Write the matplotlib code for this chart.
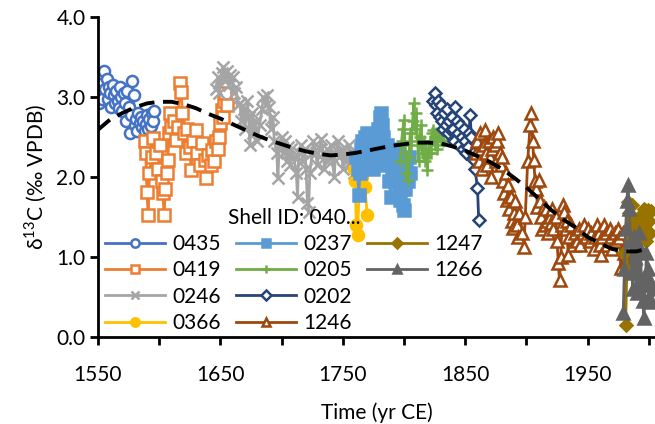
import matplotlib
matplotlib.use("Agg")
import matplotlib.pyplot as plt
from matplotlib.lines import Line2D
import numpy as np

plt.rcParams['font.family'] = ['Lato', 'DejaVu Sans']
plt.rcParams['mathtext.fontset'] = 'custom'
plt.rcParams['mathtext.rm'] = 'Lato'

# ---- data ----
yr_0435 = [1551, 1552, 1553, 1554, 1555, 1556, 1557, 1558, 1559, 1560, 1561, 1562, 1563, 1564, 1565,
           1566, 1567, 1568, 1569, 1570, 1571, 1572, 1573, 1574, 1575, 1576, 1577, 1578, 1579, 1580,
           1581, 1582, 1583, 1584, 1585, 1586, 1587, 1588, 1589, 1590, 1591, 1592, 1593, 1594, 1595, 1596]
d_0435 = [2.92, 3.05, 2.97, 3.18, 3.32, 3.10, 3.22, 2.98, 3.12, 3.05, 2.88, 3.15, 3.02, 2.93, 3.08,
          2.95, 2.86, 3.12, 3.00, 2.82, 3.05, 2.92, 2.70, 3.08, 2.88, 2.55, 2.78, 3.20, 3.02, 2.65,
          2.72, 2.58, 2.80, 2.68, 2.75, 2.62, 2.70, 2.58, 2.66, 2.78, 2.60, 2.72, 2.64, 2.80, 2.70, 2.82]

yr_0419 = [1588, 1589, 1590, 1591, 1592, 1594, 1595, 1597, 1599, 1601, 1602, 1603, 1604, 1605, 1606,
           1607, 1608, 1609, 1610, 1612, 1614, 1615, 1617, 1618, 1619, 1620, 1622, 1623, 1625, 1626,
           1628, 1630, 1631, 1633, 1635, 1637, 1638, 1640, 1642, 1643, 1645, 1646, 1648, 1649, 1650,
           1651, 1652, 1653, 1654, 1655]
d_0419 = [2.45, 2.30, 1.81, 1.52, 2.05, 2.25, 2.49, 2.30, 2.10, 2.40, 1.95, 1.80, 1.52, 1.85, 2.05,
          2.21, 2.55, 2.80, 2.62, 2.70, 2.46, 2.63, 3.17, 3.06, 2.80, 2.55, 2.30, 2.60, 2.38, 2.09,
          2.45, 2.59, 2.30, 2.15, 2.42, 2.21, 1.99, 2.28, 2.15, 2.34, 2.20, 2.45, 2.35, 2.50, 2.68,
          2.84, 2.75, 2.95, 3.05, 2.90]

yr_0246 = [1646, 1648, 1649, 1651, 1652, 1654, 1655, 1657, 1658, 1660, 1661, 1663, 1664, 1666, 1667,
           1669, 1670, 1672, 1673, 1674, 1676, 1677, 1679, 1680, 1682, 1684, 1685, 1687, 1688, 1690,
           1691, 1693, 1694, 1696, 1697, 1698, 1700, 1701, 1703, 1704, 1705, 1707, 1708, 1710, 1712,
           1713, 1714, 1716, 1717, 1719, 1720, 1721, 1722, 1723, 1725, 1726, 1728, 1729, 1731, 1732,
           1734, 1735, 1737, 1738, 1740, 1741, 1743, 1744, 1746, 1747, 1749, 1750, 1752, 1753, 1755,
           1756, 1758, 1759]
d_0246 = [3.10, 3.25, 3.05, 3.30, 3.37, 3.20, 3.33, 3.15, 3.28, 3.25, 3.05, 3.12, 2.90, 2.92, 2.70,
          2.85, 2.60, 2.95, 2.75, 2.40, 2.80, 2.55, 2.70, 2.45, 2.65, 2.85, 3.00, 2.90, 3.02, 2.88,
          2.60, 2.75, 2.45, 2.30, 1.99, 2.40, 2.50, 2.30, 2.45, 2.20, 2.37, 2.15, 2.35, 2.25, 2.05,
          1.75, 2.30, 2.40, 2.20, 2.35, 2.10, 1.67, 1.56, 2.05, 2.30, 2.45, 2.30, 2.15, 2.35, 2.48,
          2.30, 2.10, 2.35, 2.20, 2.40, 2.25, 2.00, 2.30, 2.45, 2.25, 2.35, 2.10, 2.30, 2.20, 2.40,
          2.15, 2.30, 2.05]

yr_0366 = [1759, 1760, 1761, 1762, 1764, 1766, 1768, 1770]
d_0366 = [2.10, 1.95, 1.40, 1.28, 2.09, 2.00, 1.88, 1.52]

yr_0237 = [1761, 1762, 1763, 1764, 1765, 1766, 1767, 1768, 1769, 1770, 1771, 1772, 1773, 1774, 1775,
           1776, 1777, 1778, 1779, 1780, 1781, 1782, 1783, 1784, 1785, 1786, 1787, 1788, 1789, 1790,
           1791, 1792, 1793, 1794, 1795, 1796, 1797, 1798, 1799, 1800, 1801, 1802, 1803, 1804, 1805]
d_0237 = [2.25, 2.10, 1.77, 2.05, 2.35, 2.45, 2.30, 2.50, 2.40, 2.55, 2.35, 2.20, 2.45, 2.30, 2.10,
          2.40, 2.25, 2.50, 2.60, 2.75, 2.80, 2.65, 2.50, 2.30, 2.15, 2.40, 2.20, 1.95, 1.75, 2.05,
          2.30, 2.15, 1.95, 2.20, 2.35, 1.90, 1.71, 1.85, 1.65, 1.59, 1.85, 2.10, 1.95, 2.25, 2.05]

yr_0205 = [1797, 1798, 1799, 1800, 1801, 1802, 1803, 1804, 1805, 1806, 1807, 1808, 1809, 1810, 1811,
           1812, 1813, 1814, 1815, 1816, 1817, 1818, 1819, 1820, 1821, 1822, 1823, 1824, 1825, 1826,
           1827, 1828, 1829, 1830, 1831, 1832]
d_0205 = [2.20, 2.45, 2.60, 2.71, 2.30, 2.05, 1.96, 2.25, 2.55, 2.40, 2.70, 2.92, 2.60, 2.80, 2.45,
          2.20, 2.50, 2.65, 2.30, 2.45, 2.20, 2.35, 2.09, 2.30, 2.45, 2.30, 2.55, 2.59, 2.40, 2.55,
          2.35, 2.50, 2.60, 2.46, 2.55, 2.45]

yr_0202 = [1824, 1825, 1826, 1827, 1828, 1829, 1830, 1831, 1832, 1833, 1834, 1835, 1836, 1837, 1838,
           1839, 1840, 1841, 1842, 1843, 1844, 1845, 1846, 1847, 1848, 1849, 1850, 1851, 1852, 1853,
           1854, 1855, 1856, 1857, 1858, 1860, 1861]
d_0202 = [2.95, 3.05, 2.90, 2.80, 2.95, 2.75, 2.90, 2.70, 2.60, 2.80, 2.65, 2.85, 2.55, 2.70, 2.59,
          2.75, 2.60, 2.45, 2.88, 2.70, 2.55, 2.40, 2.65, 2.50, 2.35, 2.60, 2.45, 2.30, 2.38, 2.55,
          2.77, 2.50, 2.30, 2.21, 2.10, 1.86, 1.46]

yr_1246 = [1859, 1860, 1861, 1862, 1863, 1864, 1865, 1866, 1867, 1868, 1869, 1870, 1871, 1872, 1873,
           1874, 1875, 1876, 1877, 1878, 1879, 1880, 1881, 1882, 1883, 1884, 1885, 1886, 1887, 1888,
           1889, 1890, 1891, 1892, 1893, 1894, 1896, 1898, 1899, 1901, 1903, 1904, 1905, 1906, 1907,
           1908, 1909, 1910, 1911, 1912, 1913, 1914, 1915, 1916, 1917, 1918, 1919, 1920, 1921, 1922,
           1924, 1925, 1926, 1927, 1928, 1929, 1930, 1931, 1932, 1933, 1934, 1935, 1936, 1938, 1940,
           1941, 1943, 1944, 1946, 1947, 1949, 1950, 1952, 1953, 1955, 1956, 1958, 1959, 1960, 1961,
           1962, 1963, 1965, 1966, 1968, 1969, 1970, 1972, 1973, 1975, 1976, 1977, 1979, 1980, 1981]
d_1246 = [2.30, 2.45, 2.20, 2.55, 2.35, 2.10, 2.40, 2.59, 2.30, 2.15, 2.45, 2.25, 2.00, 2.35, 2.50,
          2.40, 2.20, 2.45, 2.55, 2.30, 2.15, 2.25, 1.95, 1.80, 2.05, 1.71, 1.90, 1.60, 1.75, 1.45,
          1.36, 1.55, 1.70, 1.40, 1.25, 1.55, 1.30, 1.13, 1.50, 2.20, 2.65, 2.80, 2.45, 2.21, 1.95,
          1.85, 1.63, 1.96, 1.70, 1.50, 1.35, 1.63, 1.40, 1.60, 1.45, 1.30, 1.50, 1.42, 1.60, 1.35,
          1.50, 1.20, 0.92, 0.71, 1.00, 1.40, 1.65, 1.56, 1.35, 1.45, 1.02, 1.25, 1.40, 1.15, 1.30,
          1.20, 1.35, 1.15, 1.30, 1.40, 1.25, 1.35, 1.20, 1.30, 1.10, 1.25, 1.40, 1.30, 1.15, 1.02,
          1.25, 1.40, 1.30, 1.15, 1.35, 1.25, 1.10, 1.30, 1.20, 1.35, 1.24, 0.86, 1.30, 1.05, 0.95]

yr_1247 = [1980, 1981, 1982, 1983, 1984, 1985, 1986, 1987, 1988, 1989, 1990, 1991, 1992, 1993, 1994,
           1995, 1996, 1997, 1998, 1999, 2000, 2001, 2002]
d_1247 = [1.05, 0.15, 0.86, 1.69, 1.55, 1.30, 1.65, 1.20, 1.45, 0.90, 0.56, 1.10, 1.50, 1.35, 1.25,
          1.45, 1.60, 1.40, 1.20, 1.59, 1.45, 1.30, 1.58]

yr_1266 = [1979, 1980, 1981, 1982, 1983, 1984, 1985, 1986, 1987, 1988, 1989, 1990, 1991, 1992, 1993,
           1994, 1995, 1996, 1997, 1998, 1999, 2000, 2001, 2002, 2003]
d_1266 = [0.30, 0.85, 1.35, 1.70, 1.90, 1.60, 1.20, 0.80, 0.60, 1.25, 1.00, 0.55, 0.80, 1.30, 1.10,
          0.70, 0.45, 0.24, 0.65, 1.05, 0.85, 0.50, 0.70, 0.44, 0.60]

# dashed trend curve, read every 10 years
yr_trend = list(range(1550, 2010, 10))
d_trend = [2.59, 2.72, 2.80, 2.87, 2.92, 2.94, 2.94, 2.91, 2.86, 2.79, 2.73, 2.66, 2.59, 2.52, 2.46,
           2.41, 2.36, 2.32, 2.29, 2.27, 2.28, 2.30, 2.33, 2.36, 2.39, 2.41, 2.43, 2.43, 2.42, 2.38,
           2.33, 2.26, 2.19, 2.10, 1.99, 1.87, 1.73, 1.59, 1.47, 1.37, 1.25, 1.17, 1.10, 1.07, 1.07,
           1.11]

series = [
    ('0435', yr_0435, d_0435, '#4472C4', 'o', True),
    ('0419', yr_0419, d_0419, '#ED7D31', 's', True),
    ('0246', yr_0246, d_0246, '#A5A5A5', 'x', False),
    ('0366', yr_0366, d_0366, '#FFC000', 'o', False),
    ('0237', yr_0237, d_0237, '#5B9BD5', 's', False),
    ('0205', yr_0205, d_0205, '#70AD47', '+', False),
    ('0202', yr_0202, d_0202, '#264478', 'D', True),
    ('1246', yr_1246, d_1246, '#9E480E', '^', True),
    ('1247', yr_1247, d_1247, '#997300', 'D', False),
    ('1266', yr_1266, d_1266, '#636363', '^', False),
]

FS = 15

fig = plt.figure(figsize=(6.55, 4.24), dpi=100)
ax = fig.add_axes([98 / 655, 87 / 424, 557 / 655, 320 / 424])

handles = []
for name, x, y, c, m, hollow in series:
    ms = 6.5 if m == 'D' else 8
    h, = ax.plot(x, y, color=c, lw=2, marker=m, ms=ms, mew=1.8,
                 mfc='white' if hollow else c, mec=c, label=name)
    handles.append(h)

ax.plot(yr_trend, d_trend, color='black', lw=2.8, ls=(0, (4, 2.2)), zorder=5)

ax.set_xlim(1550, 2005)
ax.set_ylim(0, 4.0)
ax.set_xticks(np.arange(1550, 2000, 100))
ax.set_xticks(np.arange(1600, 2001, 100), minor=True)
ax.set_yticks(np.arange(0, 4.01, 1.0))
ax.set_yticklabels(['%.1f' % v for v in np.arange(0, 4.01, 1.0)])
for s in ['top', 'right']:
    ax.spines[s].set_visible(False)
for s in ['left', 'bottom']:
    ax.spines[s].set_linewidth(2)
ax.tick_params(axis='both', which='both', direction='out', width=2, length=6, labelsize=FS)
ax.tick_params(axis='x', pad=14)
ax.tick_params(axis='y', pad=3)

ax.set_xlabel('Time (yr CE)', fontsize=FS, labelpad=13)
ax.set_ylabel('δ$^{\\mathregular{13}}$C (‰ VPDB)', fontsize=FS, labelpad=5)

blank = Line2D([], [], alpha=0)
leg = ax.legend(handles + [blank, blank], [s[0] for s in series] + ['', ''], ncol=3,
                loc='lower left', bbox_to_anchor=(105 / 655, (424 - 333) / 424),
                bbox_transform=fig.transFigure, frameon=False, fontsize=FS,
                title='Shell ID: 040...', title_fontsize=FS, handlelength=2.9,
                handletextpad=0.35, columnspacing=0.7, labelspacing=0.3,
                borderpad=0, borderaxespad=0, markerscale=0.75)

fig.savefig('out.png', dpi=100)
